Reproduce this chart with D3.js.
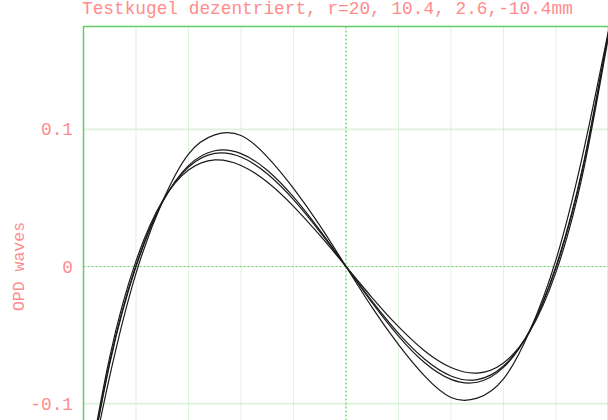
<!DOCTYPE html>
<html>
<head>
<meta charset="utf-8">
<script src="https://cdn.jsdelivr.net/npm/d3@7"></script>
<style>
  body { margin: 0; background: #fff; }
  text { font-family: "Liberation Mono", "DejaVu Sans Mono", monospace; fill: #ff8c8c; }
</style>
</head>
<body>
<svg id="chart"></svg>
<script>
// OPD plot, decentered test sphere

const title = "Testkugel dezentriert, r=20, 10.4, 2.6,-10.4mm";
const yLabel = "OPD waves";

// pupil coordinate, -1 .. 1
const pupil = [-1, -0.9, -0.8, -0.7, -0.6, -0.5, -0.4, -0.3, -0.2, -0.1, 0,
               0.1, 0.2, 0.3, 0.4, 0.5, 0.6, 0.7, 0.8, 0.9, 1];

// OPD in waves, one array per decentering
const opdR20 = [-0.172, -0.0800, -0.0050, 0.0470, 0.0820, 0.0960, 0.0955, 0.0800, 0.0570, 0.0300, 0,
                -0.0300, -0.0570, -0.0800, -0.0955, -0.0960, -0.0820, -0.0470, 0.0050, 0.0800, 0.172];
const opd104 = [-0.171, -0.0710, -0.0003, 0.0466, 0.0736, 0.0844, 0.0823, 0.0702, 0.0507, 0.0265, 0,
                -0.0265, -0.0507, -0.0702, -0.0823, -0.0844, -0.0736, -0.0466, 0.0003, 0.0710, 0.171];
const opd26 = [-0.170, -0.0695, 0.0010, 0.0468, 0.0726, 0.0825, 0.0798, 0.0676, 0.0487, 0.0254, 0,
               -0.0254, -0.0487, -0.0676, -0.0798, -0.0825, -0.0726, -0.0468, -0.0010, 0.0695, 0.170];
const opdM104 = [-0.168, -0.0659, 0.0041, 0.0475, 0.0703, 0.0777, 0.0737, 0.0616, 0.0439, 0.0228, 0,
                 -0.0228, -0.0439, -0.0616, -0.0737, -0.0777, -0.0703, -0.0475, -0.0041, 0.0659, 0.168];

const gridX = [-0.8, -0.6, -0.4, -0.2, 0.2, 0.4, 0.6, 0.8];
const yTicks = [0.1, 0, -0.1];
const yTickLabels = ["0.1", "0", "-0.1"];

let width = 608, height = 420;
let plotLeft = 83.5, plotTop = 26.5, plotW = 525, plotH = 480;

let svg = d3.select("#chart").attr("width", width).attr("height", height);

let x = d3.scaleLinear().domain([-1, 1]).range([plotLeft, plotLeft + plotW]);
let y = d3.scaleLinear().domain([-0.175, 0.175]).range([plotTop + plotH, plotTop]);

svg.append("clipPath").attr("id", "clip")
  .append("rect")
  .attr("x", plotLeft).attr("y", plotTop)
  .attr("width", plotW).attr("height", plotH);

// faint band under the 0.1 gridlines
svg.selectAll(".band")
  .data(yTicks.filter(d => d != 0))
  .enter()
  .append("line")
  .attr("x1", plotLeft).attr("x2", plotLeft + plotW)
  .attr("y1", d => y(d)).attr("y2", d => y(d))
  .style("stroke", "#f2f8f2")
  .style("stroke-width", 3)

// light dotted grid
svg.selectAll(".gx")
  .data(gridX)
  .enter()
  .append("line")
  .attr("x1", d => x(d)).attr("x2", d => x(d))
  .attr("y1", plotTop).attr("y2", plotTop + plotH)
  .style("stroke", "#bfe6bf")
  .style("stroke-dasharray", "1,1")

svg.selectAll(".gy")
  .data(yTicks.filter(d => d != 0))
  .enter()
  .append("line")
  .attr("x1", plotLeft).attr("x2", plotLeft + plotW)
  .attr("y1", d => y(d)).attr("y2", d => y(d))
  .style("stroke", "#c6e8c6")
  .style("stroke-dasharray", "1,1")

// zero lines, dashed
svg.append("line")
  .attr("x1", x(0)).attr("x2", x(0))
  .attr("y1", plotTop).attr("y2", plotTop + plotH)
  .style("stroke", "#5fcf5f")
  .style("stroke-width", 1.2)
  .style("stroke-dasharray", "2,2")

svg.append("line")
  .attr("x1", plotLeft).attr("x2", plotLeft + plotW)
  .attr("y1", y(0)).attr("y2", y(0))
  .style("stroke", "#5fcf5f")
  .style("stroke-width", 1.2)
  .style("stroke-dasharray", "2,2")

// frame
svg.append("rect")
  .attr("x", plotLeft).attr("y", plotTop)
  .attr("width", plotW).attr("height", plotH)
  .style("fill", "none")
  .style("stroke", "#66cc66")
  .style("stroke-width", 1.5)

// curves
let series = [opdR20, opd104, opd26, opdM104];
let line = d3.line()
  .x((d, i) => x(pupil[i]))
  .y(d => y(d))
  .curve(d3.curveNatural);

svg.append("g").attr("clip-path", "url(#clip)")
  .selectAll("path")
  .data(series)
  .enter()
  .append("path")
  .attr("d", line)
  .style("fill", "none")
  .style("stroke", "#1a1a1a")
  .style("stroke-width", 1.2)

// labels
svg.append("text")
  .attr("x", 82).attr("y", 14)
  .style("font-size", "17.8px")
  .text(title)

svg.selectAll(".ytick")
  .data(yTicks)
  .enter()
  .append("text")
  .attr("x", 73)
  .attr("y", d => y(d) + 6)
  .attr("text-anchor", "end")
  .style("font-size", "17.8px")
  .text((d, i) => yTickLabels[i])

svg.append("text")
  .attr("transform", `translate(24, ${y(0)}) rotate(-90)`)
  .attr("text-anchor", "middle")
  .style("font-size", "16.5px")
  .text(yLabel)
</script>
</body>
</html>
